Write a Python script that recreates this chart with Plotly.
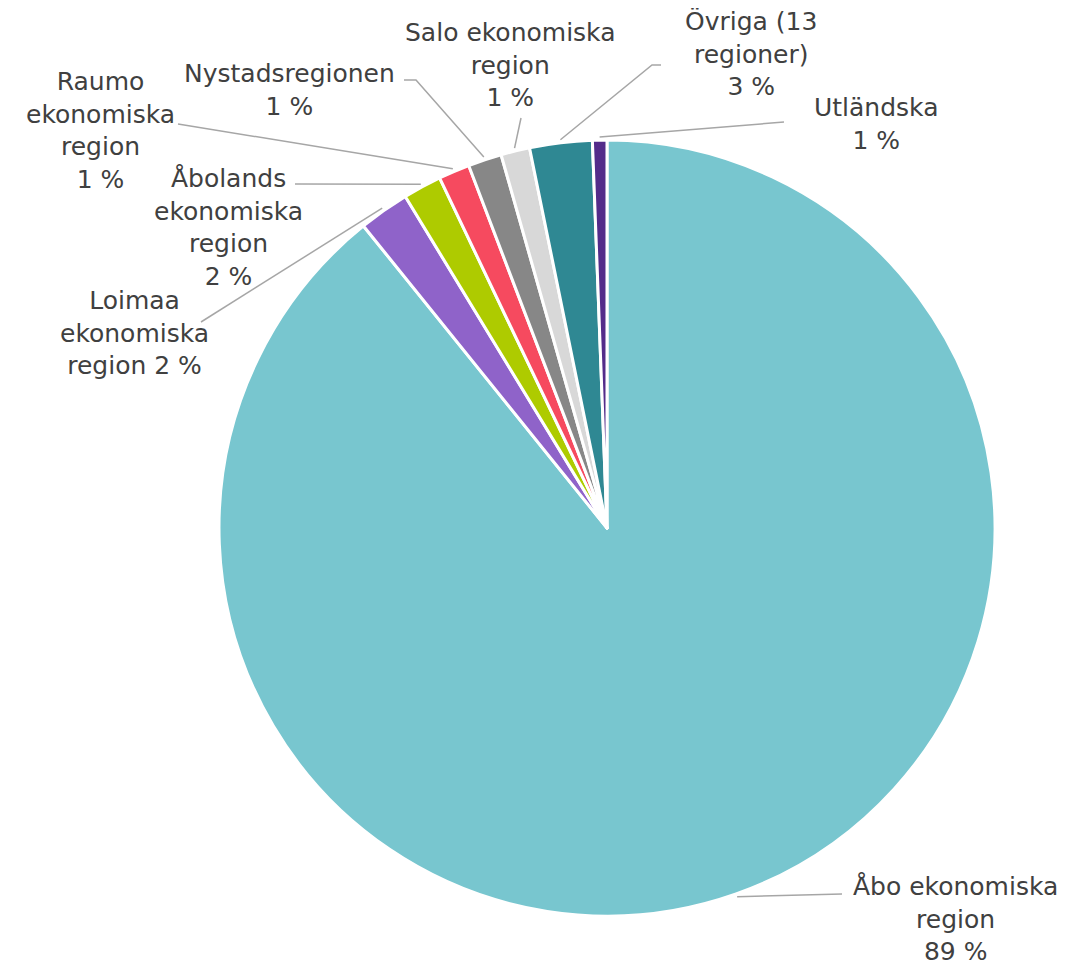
import math
import plotly.graph_objects as go

# ── Data ──────────────────────────────────────────────────────────────────────
regions = [
    "Åbo ekonomiska region",
    "Loimaa ekonomiska region",
    "Åbolands ekonomiska region",
    "Raumo ekonomiska region",
    "Nystadsregionen",
    "Salo ekonomiska region",
    "Övriga (13 regioner)",
    "Utländska",
]
shares = [89.2, 2.1, 1.6, 1.3, 1.4, 1.2, 2.6, 0.6]
label_text = [
    "Åbo ekonomiska<br>region<br>{p} %",
    "Loimaa<br>ekonomiska<br>region {p} %",
    "Åbolands<br>ekonomiska<br>region<br>{p} %",
    "Raumo<br>ekonomiska<br>region<br>{p} %",
    "Nystadsregionen<br>{p} %",
    "Salo ekonomiska<br>region<br>{p} %",
    "Övriga (13<br>regioner)<br>{p} %",
    "Utländska<br>{p} %",
]
colors = ["#78C6CF", "#8F63C9", "#AECB00", "#F64A5F",
          "#878787", "#D8D8D8", "#2F8893", "#532C8A"]

# ── Geometry (screen pixels; page body has an 8px margin) ─────────────────────
OFF = 8
W, H = 1088 - OFF, 967 - OFF
CX, CY, R = 607, 528, 388
FONT = dict(family="DejaVu Sans, sans-serif", size=25, color="#404040")
LINE_COLOR = "#A6A6A6"

# label centre and leader path (text-side points) per slice
label_pos = [(955, 919), (134, 333), (228, 228), (100, 131),
             (289, 90), (510, 65), (751, 54), (876, 124)]
leader_start = [
    [(842, 894)],
    [(201, 322)],
    [(295, 184)],
    [(178, 124)],
    [(404, 80), (416, 80)],
    [(521, 118)],
    [(661, 65), (652, 65)],
    [(784, 122)],
]


def to_paper(x, y):
    return (x - OFF) / W, 1 - (y - OFF) / H


total = sum(shares)

x0, y1 = to_paper(CX - R, CY - R)
x1, y0 = to_paper(CX + R, CY + R)

fig = go.Figure(go.Pie(
    labels=regions,
    values=shares,
    sort=False,
    direction="clockwise",
    rotation=0,
    marker=dict(colors=colors, line=dict(color="white", width=3)),
    textinfo="none",
    hovertemplate="%{label}: %{percent}<extra></extra>",
    domain=dict(x=[x0, x1], y=[y0, y1]),
    showlegend=False,
))

annotations = []
shapes = []
cum = 0.0
for i, v in enumerate(shares):
    theta = 2 * math.pi * (cum + v / 2) / total
    cum += v
    ex = CX + (R + 3) * math.sin(theta)
    ey = CY - (R + 3) * math.cos(theta)

    pts = leader_start[i] + [(ex, ey)]
    path = ""
    for j, (px, py) in enumerate(pts):
        x, y = to_paper(px, py)
        path += ("M" if j == 0 else " L") + f" {x:.5f},{y:.5f}"
    shapes.append(dict(type="path", xref="paper", yref="paper", path=path,
                       line=dict(color=LINE_COLOR, width=1.5)))

    lx, ly = to_paper(*label_pos[i])
    annotations.append(dict(
        x=lx, y=ly, xref="paper", yref="paper",
        text=label_text[i].format(p=round(v / total * 100)),
        showarrow=False, align="center",
        xanchor="center", yanchor="middle",
        font=FONT,
    ))

fig.update_layout(
    width=W,
    height=H,
    margin=dict(l=0, r=0, t=0, b=0),
    paper_bgcolor="white",
    plot_bgcolor="white",
    annotations=annotations,
    shapes=shapes,
)

fig.write_html("out.html")
